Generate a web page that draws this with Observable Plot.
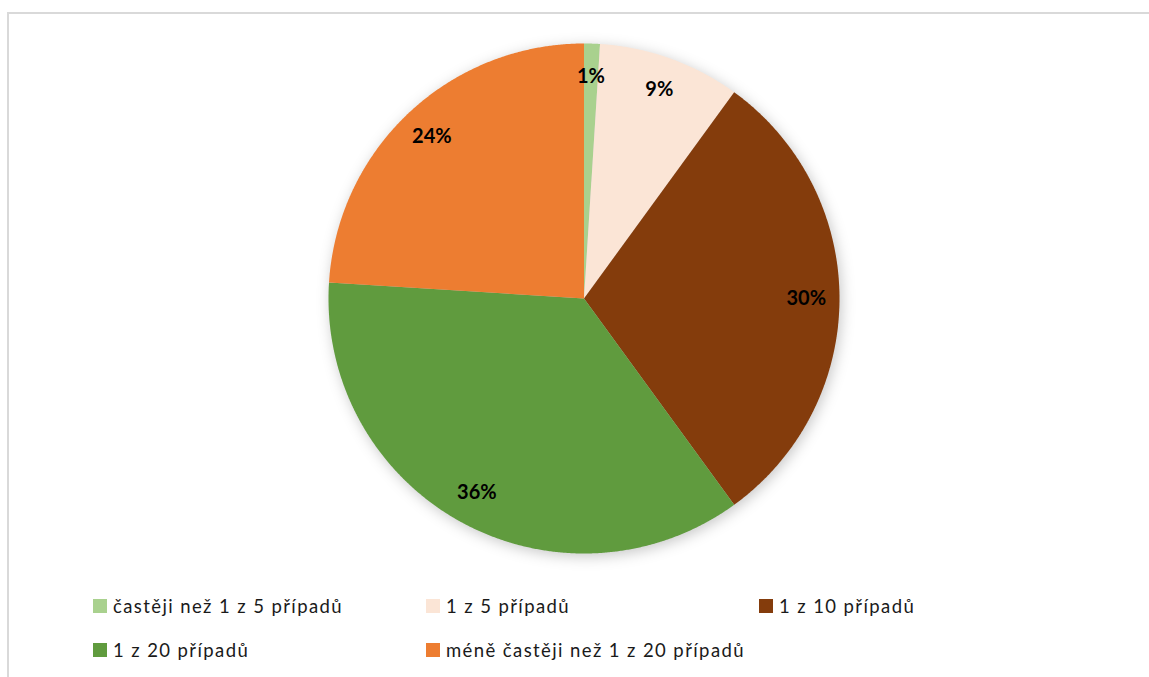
<!DOCTYPE html>
<html>
<head>
<meta charset="utf-8">
<script src="https://cdn.jsdelivr.net/npm/d3@7"></script>
<script src="https://cdn.jsdelivr.net/npm/@observablehq/plot@0.6"></script>
<style>
  html, body { margin: 0; padding: 0; background: #fff; }
  body { width: 1149px; height: 677px; overflow: hidden; position: relative; font-family: Lato, "Open Sans", sans-serif; }
  #frame { position: absolute; left: 7px; top: 12px; width: 1200px; height: 700px; border-left: 2px solid #d9d9d9; border-top: 2px solid #d9d9d9; }
  #chart { position: absolute; left: 0; top: 0; }
  #chart svg g[aria-label="line"] { filter: drop-shadow(2px 3px 7px rgba(0,0,0,0.22)); }
  #legend { position: absolute; left: 0; top: 0; width: 1149px; }
  .item { position: absolute; display: flex; align-items: center; font-size: 18.5px; letter-spacing: 1.4px; color: #1a1a1a; white-space: nowrap; }
  .sw { width: 14px; height: 14px; margin-right: 6px; flex: none; }
</style>
</head>
<body>
<div id="frame"></div>
<div id="chart"></div>
<div id="legend"></div>
<script>
const categories = ["častěji než 1 z 5 případů", "1 z 5 případů", "1 z 10 případů", "1 z 20 případů", "méně častěji než 1 z 20 případů"];
const values = [1, 9, 30, 36, 24];
const colors = ["#a9d18e", "#fbe5d6", "#843c0c", "#609b3e", "#ed7d31"];

const pie = d3.pie().sort(null).value(d => d.value);
const arcs = pie(categories.map((c, i) => ({cat: c, value: values[i]})));

const polys = [];
const labelPts = [];
arcs.forEach(a => {
  const cat = a.data.cat;
  polys.push({cat, x: 0, y: 0});
  const n = Math.max(4, Math.ceil((a.endAngle - a.startAngle) / 0.005));
  for (let k = 0; k <= n; k++) {
    const t = a.startAngle + (a.endAngle - a.startAngle) * k / n;
    polys.push({cat, x: Math.sin(t), y: Math.cos(t)});
  }
  polys.push({cat, x: 0, y: 0});
  const m = (a.startAngle + a.endAngle) / 2;
  const r = 0.87;
  labelPts.push({cat, x: r * Math.sin(m), y: r * Math.cos(m), label: a.data.value + "%"});
});

const plot = Plot.plot({
  width: 1149,
  height: 580,
  margin: 0,
  x: {domain: [-1, 1], range: [328, 839], axis: null},
  y: {domain: [-1, 1], range: [553, 43], axis: null},
  color: {domain: categories, range: colors},
  style: {fontFamily: "Lato, 'Open Sans', sans-serif", background: "transparent"},
  marks: [
    Plot.line(polys, {x: "x", y: "y", z: "cat", fill: "cat", stroke: "none", curve: "linear"}),
    Plot.text(labelPts, {x: "x", y: "y", text: "label", fill: "#000", fontWeight: "bold", fontSize: 20})
  ]
});
document.getElementById("chart").appendChild(plot);

const legend = document.getElementById("legend");
const pos = [[93, 606], [426, 606], [759, 606], [93, 650], [426, 650]];
categories.forEach((c, i) => {
  const it = document.createElement("div");
  it.className = "item";
  it.style.left = pos[i][0] + "px";
  it.style.top = (pos[i][1] - 12) + "px";
  it.style.height = "24px";
  const sw = document.createElement("span");
  sw.className = "sw";
  sw.style.background = colors[i];
  const tx = document.createElement("span");
  tx.textContent = c;
  it.appendChild(sw);
  it.appendChild(tx);
  legend.appendChild(it);
});
</script>
</body>
</html>
